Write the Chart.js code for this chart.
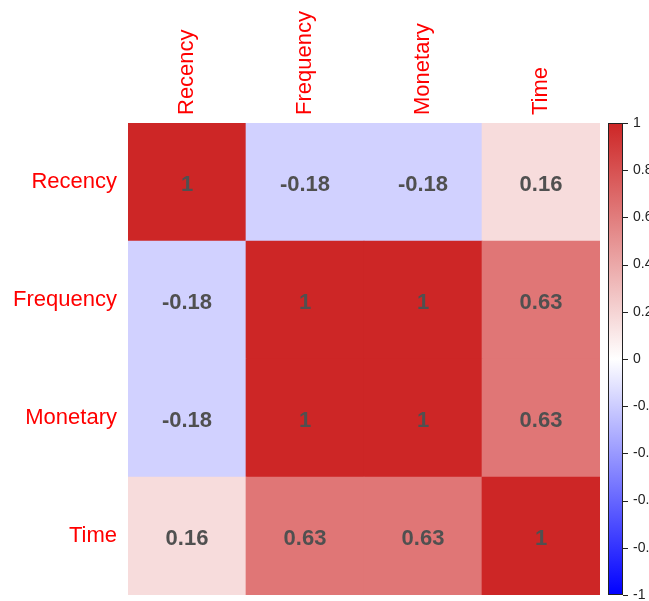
<!DOCTYPE html>
<html>
<head>
<meta charset="utf-8">
<script src="https://cdn.jsdelivr.net/npm/chart.js@4"></script>
<style>
  html, body { margin: 0; padding: 0; background: #ffffff; }
  canvas { display: block; }
</style>
</head>
<body>
<canvas id="c" width="649" height="601"></canvas>
<script>
// ---- data ----
const variables = ['Recency', 'Frequency', 'Monetary', 'Time'];
const corrRecency   = [1, -0.18, -0.18, 0.16];
const corrFrequency = [-0.18, 1, 1, 0.63];
const corrMonetary  = [-0.18, 1, 1, 0.63];
const corrTime      = [0.16, 0.63, 0.63, 1];
const colorbarTicks = [1, 0.8, 0.6, 0.4, 0.2, 0, -0.2, -0.4, -0.6, -0.8, -1];

const rows = [corrRecency, corrFrequency, corrMonetary, corrTime];

// colour map: blue -> white -> firebrick3
const NEG = [0, 0, 255], MID = [255, 255, 255], POS = [205, 38, 38];
function colorFor(v) {
  const end = v >= 0 ? POS : NEG;
  const t = Math.min(1, Math.abs(v));
  const c = MID.map((m, i) => Math.round(m + (end[i] - m) * t));
  return `rgb(${c[0]},${c[1]},${c[2]})`;
}

// stacked bars: bottom dataset = last row (Time), top = first row (Recency)
const datasets = [];
for (let r = rows.length - 1; r >= 0; r--) {
  datasets.push({
    label: variables[r],
    data: rows[r].map(() => 1),
    corr: rows[r],
    backgroundColor: rows[r].map(colorFor),
    borderWidth: 0,
    barPercentage: 1,
    categoryPercentage: 1
  });
}

const FONT = "'Liberation Sans', Arial, sans-serif";

const cellText = {
  id: 'cellText',
  afterDatasetsDraw(chart) {
    const ctx = chart.ctx;
    ctx.save();
    ctx.font = `bold 22px ${FONT}`;
    ctx.fillStyle = '#505050';
    ctx.textAlign = 'center';
    ctx.textBaseline = 'middle';
    chart.data.datasets.forEach((ds, di) => {
      const meta = chart.getDatasetMeta(di);
      meta.data.forEach((el, i) => {
        const cy = (el.y + el.base) / 2;
        ctx.fillText(String(ds.corr[i]), el.x, cy + 3);
      });
    });
    ctx.restore();
  }
};

const colorbar = {
  id: 'colorbar',
  afterDraw(chart) {
    const s = chart.scales.cb;
    const ctx = chart.ctx;
    const x0 = s.left + 8, w = 15;
    const yTop = s.getPixelForValue(1), yBot = s.getPixelForValue(-1);
    const g = ctx.createLinearGradient(0, yTop, 0, yBot);
    g.addColorStop(0, colorFor(1));
    g.addColorStop(0.5, colorFor(0));
    g.addColorStop(1, colorFor(-1));
    ctx.save();
    ctx.fillStyle = g;
    ctx.fillRect(x0, yTop, w, yBot - yTop);
    ctx.strokeStyle = '#222';
    ctx.lineWidth = 1;
    ctx.strokeRect(x0 + 0.5, yTop + 0.5, w - 1, yBot - yTop - 1);
    colorbarTicks.forEach(v => {
      const y = Math.round(s.getPixelForValue(v)) + 0.5;
      ctx.beginPath();
      ctx.moveTo(x0 + w, y);
      ctx.lineTo(x0 + w + 5, y);
      ctx.stroke();
    });
    ctx.restore();
  }
};

new Chart(document.getElementById('c'), {
  type: 'bar',
  data: { labels: variables, datasets },
  options: {
    responsive: false,
    animation: false,
    layout: { padding: { top: 0, bottom: 6, left: 0, right: 0 } },
    plugins: { legend: { display: false }, tooltip: { enabled: false } },
    scales: {
      x: {
        position: 'top',
        stacked: true,
        grid: { display: false },
        border: { display: false },
        ticks: {
          minRotation: 90, maxRotation: 90, autoSkip: false, padding: 0,
          labelOffset: 26,
          color: '#ff0000', font: { family: FONT, size: 22 }
        },
        afterFit(s) { s.height = 123; s.paddingLeft = 0; s.paddingRight = 0; }
      },
      y: {
        stacked: true,
        min: 0, max: 4,
        grid: { display: false },
        border: { display: false },
        afterBuildTicks(s) { s.ticks = [0.5, 1.5, 2.5, 3.5].map(v => ({ value: v })); },
        ticks: {
          padding: 3,
          color: '#ff0000', font: { family: FONT, size: 22 },
          callback: (v) => variables[3 - Math.floor(v)]
        },
        afterFit(s) { s.width = 128; s.paddingTop = 0; s.paddingBottom = 0; }
      },
      cb: {
        type: 'linear',
        position: 'right',
        min: -1, max: 1,
        grid: { display: false },
        border: { display: false },
        afterBuildTicks(s) { s.ticks = colorbarTicks.map(v => ({ value: v })); },
        ticks: {
          padding: 25,
          color: '#222', font: { family: FONT, size: 14 },
          callback: (v) => String(Math.round(v * 10) / 10)
        },
        afterFit(s) { s.width = 49; s.paddingTop = 0; s.paddingBottom = 0; }
      }
    }
  },
  plugins: [cellText, colorbar]
});
</script>
</body>
</html>
